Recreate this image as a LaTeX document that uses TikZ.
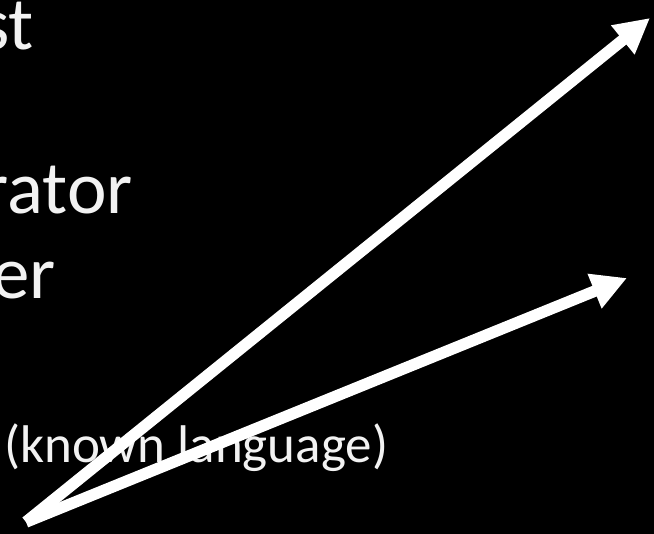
\documentclass[tikz,border=0pt]{standalone}
\usepackage{fontspec}
\setmainfont{Carlito}
\usetikzlibrary{arrows.meta}
\definecolor{txtgray}{RGB}{242,242,242}
\tikzset{
  bigtxt/.style={inner sep=0pt, text=txtgray, font=\fontsize{75}{78}\selectfont, anchor=base east},
  smalltxt/.style={inner sep=0pt, text=txtgray, font=\fontsize{53}{56}\selectfont, anchor=base west},
  arr/.style={draw=white, line width=11.5pt, line cap=butt, -{Triangle[length=35pt, width=35pt]}}
}
\begin{document}
\begin{tikzpicture}[x=1pt, y=-1pt]
\clip (0,0) rectangle (654,534);
\fill[black] (0,0) rectangle (654,534);
\node[bigtxt] (st) at (34,50) {st};
\node[bigtxt] (trator) at (133,214) {trator};
\node[bigtxt] (er) at (56,299) {er};
\node[smalltxt] (known) at (4,463) {(known language)};
\coordinate (tail) at (26,522);
\coordinate (tipA) at (650,18);
\coordinate (tipB) at (627,278);
\draw[arr] (tail) -- (tipA);
\draw[arr] (tail) -- (tipB);
\end{tikzpicture}
\end{document}
